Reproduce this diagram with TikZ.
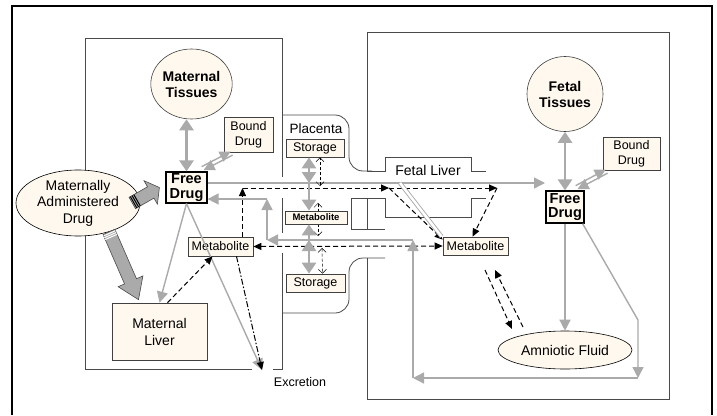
\documentclass[tikz,border=0pt]{standalone}
\usepackage{fontspec}
\setmainfont{Liberation Sans}
\usetikzlibrary{arrows.meta,shapes.geometric,calc}

% Big grey block arrow with a striped tail: tail, tip, head length, stripe colour
\newcommand\blockarrow[4]{%
  \coordinate (ba-h) at ($(#2)!#3!(#1)$);
  \filldraw[fill=arrowGrey, draw=wallGrey, line width=0.6pt]
    ($(#1)!6.5pt!90:(#2)$) -- ($(ba-h)!6.5pt!90:(#2)$) -- ($(ba-h)!13.5pt!90:(#2)$)
    -- (#2) -- ($(ba-h)!13.5pt!-90:(#2)$) -- ($(ba-h)!6.5pt!-90:(#2)$)
    -- ($(#1)!6.5pt!-90:(#2)$) -- cycle;
  \foreach \ds in {1.5pt,3.5pt,5.5pt}{
    \coordinate (ba-s) at ($(#1)!\ds!(#2)$);
    \draw[#4, line width=1pt] ($(ba-s)!6.5pt!90:(#2)$) -- ($(ba-s)!6.5pt!-90:(#2)$);
  }%
}

\begin{document}
\begin{tikzpicture}[x=1pt, y=-1pt,
    wall/.style={draw=wallGrey, line width=0.8pt},
    frame/.style={draw=black, line width=2pt},
    box/.style={draw=nodeLine, fill=nodeFill, line width=0.7pt, inner sep=0pt, align=center, font=\fontsize{12.5}{15}\selectfont},
    freebox/.style={draw=black, fill=nodeFill, line width=1.2pt, inner sep=0pt, align=center, minimum width=41pt, minimum height=31pt, font=\bfseries\fontsize{14.5}{14.5}\selectfont},
    tissue/.style={ellipse, draw=nodeLine, fill=nodeFill, line width=0.6pt, inner sep=0pt, align=center, minimum width=77pt, minimum height=70pt, font=\bfseries\fontsize{14}{16}\selectfont},
    oval/.style={ellipse, draw=black, fill=nodeFill, line width=0.6pt, inner sep=0pt, align=center, font=\fontsize{14}{16.5}\selectfont},
    tag/.style={inner sep=0pt, font=\fontsize{13.5}{16}\selectfont},
    gthick/.style={draw=arrowGrey, line width=2.6pt, -{Triangle[length=11pt,width=14pt]}},
    gboth/.style={gthick, {Triangle[length=11pt,width=14pt]}-{Triangle[length=11pt,width=14pt]}},
    gthin/.style={draw=arrowGrey, line width=1.4pt, -{Triangle[length=11pt,width=11pt]}},
    gdouble/.style={draw=arrowGrey, line width=0.9pt, double=white, double distance=2.5pt},
    darrow/.style={draw=black, line width=1pt, dash pattern=on 5pt off 3pt, -{Triangle[length=8pt,width=7pt]}},
    ddot/.style={darrow, dash pattern=on 6pt off 2pt on 1.5pt off 2pt},
    oarrow/.style={draw=black, line width=0.5pt, dash pattern=on 3pt off 2pt, {Straight Barb[length=4pt,width=8pt]}-{Straight Barb[length=4pt,width=8pt]}}
  ]
    \definecolor{nodeFill}{HTML}{FFF8EE}
    \definecolor{nodeLine}{HTML}{404040}
    \definecolor{wallGrey}{HTML}{4A4A4A}
    \definecolor{arrowGrey}{HTML}{AAAAAA}

    \useasboundingbox[fill=white] (0,0) rectangle (717,415);

    % Outer frame
    \draw[frame] (12,415) -- (12,6) -- (712,6) -- (712,415);

    % Maternal compartment
    \draw[wall] (282,115) -- (282,38) -- (85,38) -- (85,369) -- (252,369);
    \draw[wall] (273,369) -- (282,369) -- (282,253);
    \draw[wall] (282,115) -- (282,177);
    \draw[wall] (282,198) -- (282,233);

    % Placenta and fetal liver walls
    \draw[wall, rounded corners=14pt] (282,115) -- (349,115) -- (349,171) -- (372,171);
    \draw[wall] (367,171) -- (385,171) -- (385,157) -- (471,157) -- (471,171) -- (486,171);
    \draw[wall] (486,198) -- (471,198) -- (471,217) -- (385,217) -- (385,198) -- (351,198) -- (351,229) -- (385,229);
    \draw[wall] (367,198) -- (367,229);
    \draw[wall, rounded corners=14pt] (385,258) -- (349,258) -- (349,313) -- (282,313);

    % Fetal compartment
    \draw[wall] (367,171) -- (367,32) -- (669,32) -- (669,399) -- (367,399) -- (367,258);

    % Junctions on the exchange lines
    \coordinate (j1) at (309,183);
    \coordinate (j2) at (309,240);
    \coordinate (j3) at (400,183);
    \coordinate (k1) at (320,186);
    \coordinate (k2) at (318,203);
    \coordinate (k3) at (318,236);
    \coordinate (k4) at (322,248);

    % Placenta metabolite exchange (behind the box)
    \draw[oarrow] (k2) -- (k3);

    % Maternal side
    \node[tissue] (mtis) at (191.5,84) {Maternal\\Tissues};
    \node[box, minimum width=49pt, minimum height=35pt] (mbound) at (248.5,134.5) {Bound\\Drug};
    \node[freebox] (mfree) at (186.5,187.5) {Free\\Drug};
    \node[oval, minimum width=124pt, minimum height=66pt] (admin) at (78,203) {Maternally\\Administered\\Drug};
    \node[box, minimum width=95pt, minimum height=57pt, font=\fontsize{14}{17}\selectfont] (mliver) at (159.5,331.5) {Maternal\\Liver};
    \node[box, minimum width=65pt, minimum height=19pt] (mmet) at (220.5,246.5) {Metabolite};
    \node[tag, font=\fontsize{12.5}{15}\selectfont] (excr) at (300,382) {Excretion};

    % Placenta
    \node[tag] (plac) at (316,129) {Placenta};
    \node[box, minimum width=58pt, minimum height=18pt] (stor1) at (315,148) {Storage};
    \node[box, minimum width=62pt, minimum height=13pt, font=\bfseries\fontsize{9.5}{11}\selectfont] (pmet) at (316,217.5) {Metabolite};
    \node[box, minimum width=59pt, minimum height=18pt] (stor2) at (315.5,283) {Storage};

    % Fetal side
    \node[tag, font=\fontsize{14}{16}\selectfont] (fliv) at (428,170) {Fetal Liver};
    \node[box, minimum width=65pt, minimum height=18pt] (fmet) at (475.5,246) {Metabolite};
    \node[tissue, minimum width=76pt, minimum height=75pt] (ftis) at (565,94) {Fetal\\Tissues};
    \node[box, minimum width=57pt, minimum height=33pt] (fbound) at (631.5,153.5) {Bound\\Drug};
    \node[freebox, minimum width=38pt, minimum height=32pt] (ffree) at (565,207) {Free\\Drug};
    \node[oval, minimum width=134pt, minimum height=38pt] (amnio) at (565,350) {Amniotic Fluid};

    % Administration block arrows
    \coordinate (adR) at ([xshift=-8pt]admin.east);
    \coordinate (mfL) at ([xshift=-6pt]mfree.west);
    \coordinate (adS) at (admin.-43);
    \coordinate (mlT) at ([shift={(-21pt,3pt)}]mliver.north);
    \blockarrow{adR}{mfL}{10pt}{black}
    \blockarrow{adS}{mlT}{20pt}{white}

    % Maternal drug flows
    \draw[gboth] (mfree.north |- mtis.south) -- (mfree.north);
    \draw[gthin] ($([xshift=-5pt,yshift=3pt]mfree.north east)!2pt!90:([xshift=8pt,yshift=-1pt]mbound.south west)$)
        -- ($([xshift=8pt,yshift=-1pt]mbound.south west)!2pt!-90:([xshift=-5pt,yshift=3pt]mfree.north east)$);
    \draw[gthin] ($([xshift=8pt,yshift=-1pt]mbound.south west)!2pt!90:([xshift=-5pt,yshift=3pt]mfree.north east)$)
        -- ($([xshift=-5pt,yshift=3pt]mfree.north east)!2pt!-90:([xshift=8pt,yshift=-1pt]mbound.south west)$);
    \coordinate (exin) at (262,370);
    \coordinate (ffin) at (545,183);
    \draw[gthin] ([yshift=4.5pt]mfree.east) -- (ffin);
    \draw[gthin] (mfree.south) -- (mliver.north);
    \draw[gthin] (mfree.south) -- (exin);

    % Maternal metabolite
    \draw[darrow] ([xshift=8pt]mliver.north) -- ([xshift=-8pt]mmet.south);
    \draw[ddot] ([xshift=16pt]mmet.south) -- (exin);
    \coordinate (d1) at (242.5,188);
    \coordinate (d2) at (389,188);
    \coordinate (d3) at (497,188);
    \draw[darrow] ([xshift=22pt]mmet.north) -- (d1);
    \draw[darrow] (d1) -- (d2);
    \draw[darrow] (d2) -- (d3);
    \draw[darrow] (d3) -- ([xshift=-3pt]fmet.north);
    \draw[darrow] (d2) -- ([yshift=-3pt]fmet.north west);
    \draw[darrow, {Triangle[length=8pt,width=7pt]}-{Triangle[length=8pt,width=7pt]}] (mmet.east) -- (fmet.west);

    % Placenta exchange
    \draw[gboth] ([xshift=-6pt]stor1.south) -- (j1);
    \draw[gthick] (j1) -- (j1 |- pmet.north);
    \draw[gthick] (j2) -- (j2 |- pmet.south);
    \draw[gboth] (j2) -- ([xshift=-6.5pt]stor2.north);
    \draw[oarrow] (k1) -- ([xshift=5pt]stor1.south);
    \draw[oarrow] (k4) -- ([xshift=7pt]stor2.north);

    % Fetal drug flows
    \draw[gboth] (ftis.south) -- (ffree.north);
    \draw[gthin] ($([xshift=-8pt,yshift=3pt]ffree.north east)!2pt!90:([xshift=4pt,yshift=-1pt]fbound.south west)$)
        -- ($([xshift=4pt,yshift=-1pt]fbound.south west)!2pt!-90:([xshift=-8pt,yshift=3pt]ffree.north east)$);
    \draw[gthin] ($([xshift=4pt,yshift=-1pt]fbound.south west)!2pt!90:([xshift=-8pt,yshift=3pt]ffree.north east)$)
        -- ($([xshift=-8pt,yshift=3pt]ffree.north east)!2pt!-90:([xshift=4pt,yshift=-1pt]fbound.south west)$);
    \draw[gthin] (ffree.south) -- (amnio.north);
    \draw[gdouble] (j3) -- ([xshift=-1pt]fmet.north west);

    % Return route to the mother
    \coordinate (c1) at (638,320);
    \coordinate (c2) at (638,378);
    \coordinate (c3) at (413,378);
    \coordinate (c4) at (413,240);
    \coordinate (c5) at (267,240);
    \coordinate (c6) at (267,199);
    \draw[gthin] ([xshift=-2pt]ffree.south east) -- (c1) -- (c2);
    \draw[gthin] (c2) -- (c3);
    \draw[gthin] (c3) -- (c4);
    \draw[gthin] (c4) -- (c5);
    \draw[gthin] (c5) -- (c6);
    \draw[gthin] (c6) -- (mfree.east |- c6);

    % Metabolite and amniotic fluid
    \coordinate (m1) at (485,270);
    \coordinate (m2) at (512,329);
    \coordinate (m3) at (523,327);
    \coordinate (m4) at (495,270);
    \draw[darrow] (m1) -- (m2);
    \draw[darrow] (m3) -- (m4);

\end{tikzpicture}
\end{document}
